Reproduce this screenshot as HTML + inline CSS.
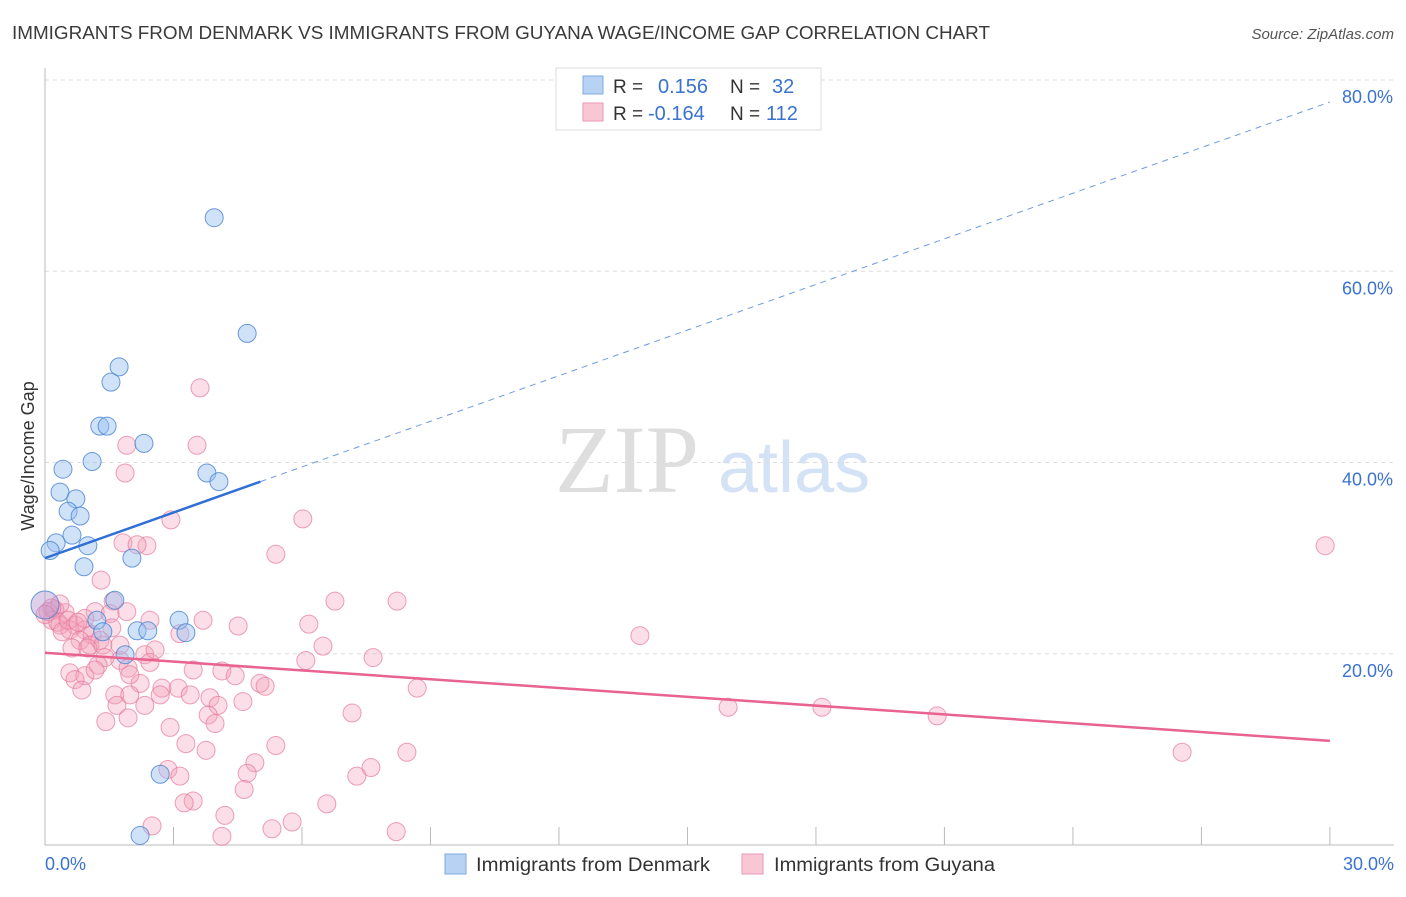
<!DOCTYPE html>
<html><head><meta charset="utf-8"><style>
body{margin:0;background:#fff;font-family:"Liberation Sans",sans-serif}
</style></head><body>
<svg width="1406" height="892" viewBox="0 0 1406 892" xmlns="http://www.w3.org/2000/svg">
<text x="12" y="39" font-size="18" fill="#3a3a3a" textLength="978" lengthAdjust="spacingAndGlyphs">IMMIGRANTS FROM DENMARK VS IMMIGRANTS FROM GUYANA WAGE/INCOME GAP CORRELATION CHART</text>
<text x="1394" y="39" font-size="15" font-style="italic" fill="#555" text-anchor="end">Source: ZipAtlas.com</text>
<text x="555" y="492" font-size="96" font-family="Liberation Serif" fill="#dedede">ZIP</text>
<text x="718" y="492" font-size="72" fill="#d3e2f5">atlas</text>
<g id="grid"></g><g id="axes"></g><g id="pts"></g><g id="lines"></g>
<text x="34" y="456" font-size="18" fill="#333" transform="rotate(-90 34 456)" text-anchor="middle">Wage/Income Gap</text>
<g>
<rect x="556" y="68" width="265" height="62" fill="#fff" stroke="#ddd"/>
<rect x="583" y="76" width="20" height="18" fill="#b8d2f4" stroke="#7fa9e0"/>
<rect x="583" y="103" width="20" height="18" fill="#f9c6d5" stroke="#ea9ab3"/>
<text x="613" y="93" font-size="19" fill="#333">R = </text><text x="658" y="93" font-size="20" fill="#3a72d0">0.156</text>
<text x="730" y="93" font-size="19" fill="#333">N = </text><text x="772" y="93" font-size="20" fill="#3a72d0">32</text>
<text x="613" y="120" font-size="19" fill="#333">R = </text><text x="648" y="120" font-size="20" fill="#3a72d0">-0.164</text>
<text x="730" y="120" font-size="19" fill="#333">N = </text><text x="766" y="120" font-size="20" fill="#3a72d0">112</text>
</g>
<g>
<rect x="445" y="854" width="21" height="20" fill="#b8d2f4" stroke="#7fa9e0"/>
<text x="476" y="871" font-size="19" fill="#333" textLength="234" lengthAdjust="spacingAndGlyphs">Immigrants from Denmark</text>
<rect x="742" y="854" width="21" height="20" fill="#f9c6d5" stroke="#ea9ab3"/>
<text x="774" y="871" font-size="19" fill="#333" textLength="221" lengthAdjust="spacingAndGlyphs">Immigrants from Guyana</text>
</g>
</svg>
<script>
const yTicks=[20,40,60,80];
const yTickLabels=["20.0%","40.0%","60.0%","80.0%"];
const xTicks=[0,3,6,9,12,15,18,21,24,27,30];
const xEndLabels=["0.0%","30.0%"];
const denmarkX=[3.95,4.72,1.73,1.54,1.28,1.45,2.31,1.10,0.42,3.78,4.06,0.35,0.72,0.54,0.82,0.63,0.26,1.00,0.12,2.03,0.91,0,1.63,1.21,3.13,3.29,1.35,2.15,2.40,1.87,2.69,2.22];
const denmarkY=[65.6,53.5,50.0,48.4,43.8,43.8,42.0,40.1,39.3,38.9,38.0,36.9,36.2,34.9,34.4,32.4,31.6,31.3,30.8,30.0,29.1,25.1,25.6,23.5,23.5,22.2,22.3,22.4,22.4,19.9,7.4,1.0];
const guyanaX=[3.62,3.55,1.91,1.87,2.94,6.02,1.82,2.38,2.15,5.39,29.89,1.31,6.77,8.22,1.59,1.17,1.52,2.45,3.69,0.47,0.23,0.07,0.16,0.35,0.70,0.93,1.10,0.58,0.82,1.05,1.28,4.51,6.16,3.15,13.89,6.49,0.63,1.00,1.35,2.33,1.75,2.45,1.40,1.24,6.09,7.66,0.58,0.93,0.70,1.17,1.94,3.46,4.13,4.44,2.22,2.73,3.11,5.02,5.14,8.69,0.86,1.63,1.98,3.39,3.85,2.69,2.33,1.68,4.04,4.62,1.94,1.42,2.92,3.81,3.97,7.17,15.95,18.14,20.83,3.29,3.76,5.39,8.45,26.55,4.90,4.72,7.61,7.28,2.87,3.15,3.46,3.25,4.65,6.58,4.20,5.77,5.30,8.20,2.50,4.13,0.35,0.16,0,0.30,0.40,0.93,1.56,1.91,0.54,0.77,1.75,1.98,2.57];
const guyanaY=[47.8,41.8,41.8,38.9,34.0,34.1,31.6,31.3,31.4,30.4,31.3,27.7,25.5,25.5,25.5,24.4,24.2,23.5,23.5,24.3,24.6,24.4,23.5,23.0,23.0,22.5,22.0,22.5,21.4,20.9,21.4,22.9,23.1,22.1,21.9,20.8,20.6,20.6,20.9,19.9,19.3,19.1,19.6,18.8,19.3,19.6,18.0,17.7,17.3,18.3,18.5,18.3,18.2,17.7,16.9,16.4,16.4,16.9,16.6,16.4,16.2,15.7,15.7,15.7,15.4,15.7,14.6,14.6,14.6,15.0,13.3,12.9,12.3,13.6,12.7,13.8,14.4,14.4,13.5,10.6,9.9,10.4,9.7,9.7,8.6,7.5,8.1,7.2,7.9,7.2,4.6,4.4,5.8,4.3,3.1,2.4,1.7,1.4,2.0,0.9,25.2,24.8,24.1,23.3,22.3,23.7,22.7,24.4,23.5,23.3,20.9,17.8,20.4];
const denmarkFit=[30.0,1.59];   // intercept, slope
const guyanaFit=[20.1,-0.307];
const NS="http://www.w3.org/2000/svg";
const sx=v=>45+v*42.83, sy=v=>845-v*9.5625;
function mk(tag,at,parent){const e=document.createElementNS(NS,tag);for(const k in at)e.setAttribute(k,at[k]);document.getElementById(parent).appendChild(e);return e;}
yTicks.forEach((t,i)=>{
  const g=mk('line',{x1:45,x2:1394,y1:sy(t),y2:sy(t),stroke:'#ddd','stroke-dasharray':'4,4'},'grid');
  
  
  const l=mk('text',{x:1393,y:sy(t)+23,'font-size':18,fill:'#3a72d0','text-anchor':'end'},'axes');
  l.textContent=yTickLabels[i];
  
  
});
const ax=mk('line',{x1:45,x2:1394,y1:845,y2:845,stroke:'#bbb'},'axes');


const ay=mk('line',{x1:45,x2:45,y1:68,y2:845,stroke:'#bbb'},'axes');


xTicks.forEach(t=>{const k=mk('line',{x1:sx(t),x2:sx(t),y1:827,y2:845,stroke:'#bbb'},'axes');
  
  });
[[0,'start',45],[30,'end',1394]].forEach((d,i)=>{const l=mk('text',{x:d[2],y:870,'font-size':18,fill:'#3a72d0','text-anchor':d[1]},'axes');l.textContent=xEndLabels[i];
  
  });
guyanaX.forEach((x,i)=>{const c=mk('circle',{cx:sx(x),cy:sy(guyanaY[i]),r:9,fill:'rgba(244,160,186,0.35)',stroke:'rgba(230,120,155,0.7)','stroke-width':1},'pts');
  
  });
denmarkX.forEach((x,i)=>{const c=mk('circle',{cx:sx(x),cy:sy(denmarkY[i]),r:(x===0?14:9),fill:(x===0?'rgba(180,150,210,0.45)':'rgba(150,190,240,0.45)'),stroke:'rgba(70,130,210,0.8)','stroke-width':1},'pts');
  
  });
const f=(fit,x)=>fit[0]+fit[1]*x;
const b1=mk('line',{x1:sx(0),y1:sy(f(denmarkFit,0)),x2:sx(5.03),y2:sy(f(denmarkFit,5.03)),stroke:'#2f6fd6','stroke-width':2.5},'lines');


const b2=mk('line',{x1:sx(5.03),y1:sy(f(denmarkFit,5.03)),x2:sx(30),y2:sy(f(denmarkFit,30)),stroke:'#6f9be0','stroke-width':1,'stroke-dasharray':'6,5'},'lines');


const p1=mk('line',{x1:sx(0),y1:sy(f(guyanaFit,0)),x2:sx(30),y2:sy(f(guyanaFit,30)),stroke:'#e8638f','stroke-width':2.5},'lines');


</script>
</body></html>
